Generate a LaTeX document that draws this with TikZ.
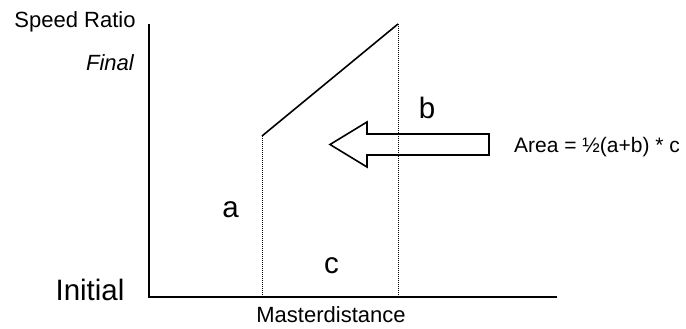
\documentclass[tikz,border=0pt]{standalone}
\usepackage{fontspec}
\setmainfont{Liberation Sans}
\begin{document}
\begin{tikzpicture}[x=1pt,y=-1pt,
  axis/.style={line width=1.8pt},
  guide/.style={line width=0.8pt, dash pattern=on 0.9pt off 1.1pt},
  curve/.style={line width=1.6pt},
  blockarrow/.style={line width=1.6pt, line join=miter},
  small/.style={inner sep=0pt, anchor=base, font=\fontsize{22}{26}\selectfont},
  formula/.style={inner sep=0pt, anchor=base west, font=\fontsize{21}{25}\selectfont},
  big/.style={inner sep=0pt, anchor=base, font=\fontsize{29.5}{34}\selectfont}]
\useasboundingbox (0,0) rectangle (686,329);
% coordinates
\coordinate (O) at (149,297);
\coordinate (Ytop) at (149,24);
\coordinate (Xend) at (557,297);
\coordinate (P1) at (262,136);
\coordinate (P2) at (398,24);
\coordinate (F1) at (262,297);
\coordinate (F2) at (398,297);
% axes
\draw[axis] (Ytop) -- (O) -- (Xend);
% guides
\draw[guide] (P1) -- (F1);
\draw[guide] (P2) -- (F2);
% slope
\draw[curve] (P1) -- (P2);
% block arrow
\draw[blockarrow] (489,134) -- (367,134) -- (367,122) -- (330,144.5) -- (367,167) -- (367,155) -- (489,155) -- cycle;
% labels
\node[small] (sr) at (75,28) {Speed Ratio};
\node[small] (fin) at (110,71) {\itshape Final};
\node[big] (lb) at (427,118) {b};
\node[formula] (area) at (514,152) {Area = ½(a+b) * c};
\node[big] (la) at (230.5,217) {a};
\node[big] (lc) at (331.5,273) {c};
\node[big] (ini) at (90,300) {Initial};
\node[small] (md) at (331,322) {Masterdistance};
\end{tikzpicture}
\end{document}
